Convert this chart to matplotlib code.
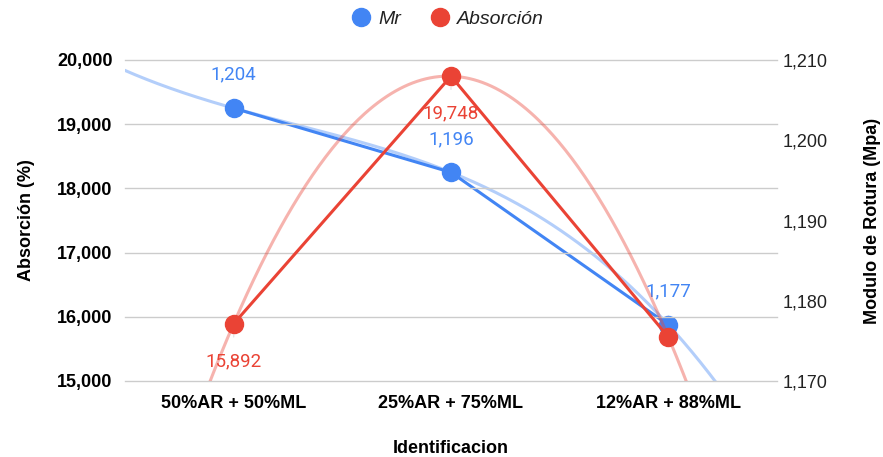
import numpy as np
import matplotlib
matplotlib.use("Agg")
import matplotlib.pyplot as plt
from matplotlib.lines import Line2D

#------------------------------------------------Datos

categorias = ["50%AR + 50%ML", "25%AR + 75%ML", "12%AR + 88%ML"]
absorcion = [15892, 19748, 15685]      # eje izquierdo
mr = [1204, 1196, 1177]                # eje derecho
mr_trend_left = 1208.7

ticks_izq = [15000, 16000, 17000, 18000, 19000, 20000]
ticks_der = [1170, 1180, 1190, 1200, 1210]

#------------------------------------------------Estilo

azul = "#4285F4"
rojo = "#EA4335"
plt.rcParams['font.family'] = ['Liberation Sans', 'DejaVu Sans']

x = np.arange(len(categorias))
xmin, xmax = -0.5, len(categorias) - 0.5

#------------------------------------------------Tendencias

coef_rojo = np.polyfit(x, absorcion, 2)
coef_azul = np.polyfit(np.r_[xmin, x], np.r_[mr_trend_left, mr], 3)
xt = np.linspace(xmin, xmax, 300)

#------------------------------------------------Figura

fig = plt.figure(figsize=(8.83, 4.57), dpi=100)
ax = fig.add_axes([125/883, 1 - 381/457, (777-125)/883, (381-60)/457])
ax2 = ax.twinx()
ax.set_zorder(ax2.get_zorder() + 1)
ax.patch.set_visible(False)

# Mr (eje derecho)
ax2.plot(xt, np.polyval(coef_azul, xt), color=azul, alpha=0.4, lw=2.2, zorder=1)
ax2.plot(x, mr, color=azul, lw=2.2, marker='o', ms=13, zorder=3)
for xi, v in zip(x, mr):
    ax2.annotate(f"{v:,}", (xi, v), xytext=(0, 24), textcoords='offset points',
                 ha='center', va='center', color=azul, fontsize=13.5, family='Roboto',
                 arrowprops=dict(arrowstyle='-', color='#e6e6e6', lw=1,
                                 shrinkA=9, shrinkB=8), zorder=2)

# Absorción (eje izquierdo)
ax.plot(xt, np.polyval(coef_rojo, xt), color=rojo, alpha=0.4, lw=2.2, zorder=1)
ax.plot(x, absorcion, color=rojo, lw=2.2, marker='o', ms=13, zorder=3)
for xi, v in list(zip(x, absorcion))[:2]:
    ax.annotate(f"{v:,}", (xi, v), xytext=(0, -27), textcoords='offset points',
                ha='center', va='center', color=rojo, fontsize=13.5, family='Roboto',
                arrowprops=dict(arrowstyle='-', color='#e6e6e6', lw=1,
                                shrinkA=9, shrinkB=8), zorder=2)

ax.set_xlim(xmin, xmax)
ax.set_ylim(15000, 20000)
ax2.set_ylim(1170, 1210)
ax.set_yticks(ticks_izq)
ax.set_yticklabels([f"{t:,}" for t in ticks_izq], fontweight='bold', fontsize=13)
ax2.set_yticks(ticks_der)
ax2.set_yticklabels([f"{t:,}" for t in ticks_der], fontsize=13, color='#222222')
ax.set_xticks(x)
ax.set_xticklabels(categorias, fontweight='bold', fontsize=13)

ax.grid(axis='y', color='#cccccc', lw=1)
for gl in ax.get_ygridlines():
    gl.set_clip_on(False)
ax.set_axisbelow(True)
for a in (ax, ax2):
    for s in a.spines.values():
        s.set_visible(False)
    a.tick_params(length=0)
ax.tick_params(axis='y', pad=9)
ax.tick_params(axis='x', pad=10)
ax2.tick_params(axis='y', pad=4)

ax.set_ylabel("Absorción (%)", fontweight='bold', fontsize=13, labelpad=16)
ax2.set_ylabel("Modulo de Rotura (Mpa)", fontweight='bold', fontsize=13, labelpad=26)
ax.set_xlabel("Identificacion", fontweight='bold', fontsize=13, labelpad=20)

handles = [Line2D([], [], ls='', marker='o', ms=13, color=azul),
           Line2D([], [], ls='', marker='o', ms=13, color=rojo)]
fig.legend(handles, ["Mr", "Absorción"], loc='upper center', bbox_to_anchor=(0.507, 1.015),
           ncol=2, frameon=False, prop={'style': 'italic', 'size': 14},
           labelcolor='#222222', handlelength=1.0, handletextpad=0.4, columnspacing=1.5)

fig.savefig("out.png", dpi=100)
